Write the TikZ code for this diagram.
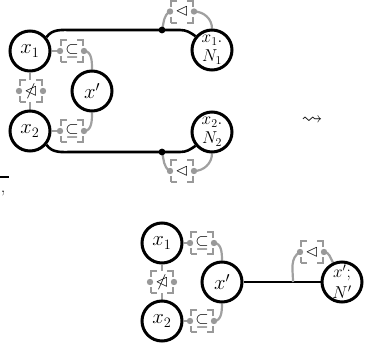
\documentclass[tikz,border=0pt]{standalone}
\usepackage{amssymb}
\pgfdeclarelayer{bg}
\pgfsetlayers{bg,main}
\definecolor{linegray}{HTML}{A0A0A0}
\definecolor{boxgray}{HTML}{999999}
\tikzset{
  obj/.style={circle, draw, line width=3bp, minimum size=40bp, inner sep=0pt, fill=white, font=\fontsize{20}{20}\selectfont},
  ntext/.style={align=center, font=\fontsize{17}{19}\selectfont},
  cbox/.style={rectangle, draw=boxgray, line width=2bp, dash pattern=on 12bp off 10bp, dash phase=6bp, minimum size=22bp, inner sep=0pt, fill=white, font=\fontsize{17}{17}\selectfont},
  gry/.style={draw=linegray, line width=2.2bp},
  blk/.style={draw=black, line width=2.6bp},
  gdot/.style={fill=boxgray},
}
\newcommand{\boxdots}[1]{\fill[gdot] (#1.west) circle (3.2bp); \fill[gdot] (#1.east) circle (3.2bp);}
\begin{document}
\begin{tikzpicture}[x=1bp,y=-1bp]
\useasboundingbox (0,0) rectangle (367,351);
% fragments at left edge
\coordinate (fa) at (0,177);
\coordinate (fb) at (9,177);
\draw[line width=1.4bp] (fa) -- (fb);
\node[font=\fontsize{18}{18}\selectfont, inner sep=0pt] (comma) at (3,193) {,};
% squiggle
\node[font=\fontsize{21}{21}\selectfont, inner sep=0pt] (sq) at (312,121) {$\rightsquigarrow$};

% ---------- upper diagram ----------
\node[obj] (a1) at (30,51) {$x_1$};
\node[obj] (a2) at (30,131) {$x_2$};
\node[obj] (ap) at (92,91) {$x'$};
\node[obj,ntext] (n1) at (212,50) {$x_1.$\\$N_1$};
\node[obj,ntext] (n2) at (212,132) {$x_2.$\\$N_2$};
\node[cbox] (s1) at (72,51) {$\subseteq$};
\node[cbox] (s2) at (72,131) {$\subseteq$};
\node[cbox] (nb) at (31,91) {$\ntriangleleft$};
\node[cbox] (t1) at (182,11.5) {$\lhd$};
\node[cbox] (b1) at (182,171) {$\lhd$};
\coordinate (j1) at (162,30);
\coordinate (j2) at (162,152);
\begin{pgfonlayer}{bg}
\draw[blk] (a1.40) to[out=55,in=180] (72,30) -- (j1) -- (180,30) to[out=0,in=145] (n1.140);
\draw[blk] (a2.-40) to[out=-55,in=180] (72,152) -- (j2) -- (180,152) to[out=0,in=-145] (n2.-140);
\draw[gry] (a1.east) -- (s1.west);
\draw[gry] (a2.east) -- (s2.west);
\draw[gry] (s1.east) to[out=0,in=90] (ap.north);
\draw[gry] (s2.east) to[out=0,in=-90] (ap.south);
\draw[gry] (a1.south) -- (a2.north);
\draw[gry] (j1) to[out=75,in=-150] (t1.west);
\draw[gry] (t1.east) to[out=0,in=90] (n1.north);
\draw[gry] (j2) to[out=-75,in=150] (b1.west);
\draw[gry] (b1.east) to[out=0,in=-90] (n2.south);
\end{pgfonlayer}
\fill (j1) circle (3.4bp);
\fill (j2) circle (3.4bp);
\boxdots{s1}\boxdots{s2}\boxdots{nb}\boxdots{t1}\boxdots{b1}

% ---------- lower diagram ----------
\node[obj] (c1) at (162,243) {$x_1$};
\node[obj] (c2) at (162,321) {$x_2$};
\node[obj] (cp) at (222,282) {$x'$};
\node[obj,ntext,font=\fontsize{17}{21}\selectfont] (np) at (342,282) {$x';$\\$N'$};
\node[cbox] (u1) at (202,243) {$\subseteq$};
\node[cbox] (u2) at (202,321) {$\subseteq$};
\node[cbox] (nb2) at (162,282) {$\ntriangleleft$};
\node[cbox] (tb) at (312,252) {$\lhd$};
\coordinate (j3) at (293,282);
\begin{pgfonlayer}{bg}
\draw[blk] (cp.east) -- (j3) -- (np.west);
\draw[gry] (c1.east) -- (u1.west);
\draw[gry] (c2.east) -- (u2.west);
\draw[gry] (u1.east) to[out=0,in=90] (cp.north);
\draw[gry] (u2.east) to[out=0,in=-90] (cp.south);
\draw[gry] (c1.south) -- (c2.north);
\draw[gry] (j3) to[out=90,in=-150] (tb.west);
\draw[gry] (tb.east) to[out=0,in=120] (np.115);
\end{pgfonlayer}
\boxdots{u1}\boxdots{u2}\boxdots{nb2}\boxdots{tb}
\end{tikzpicture}
\end{document}
